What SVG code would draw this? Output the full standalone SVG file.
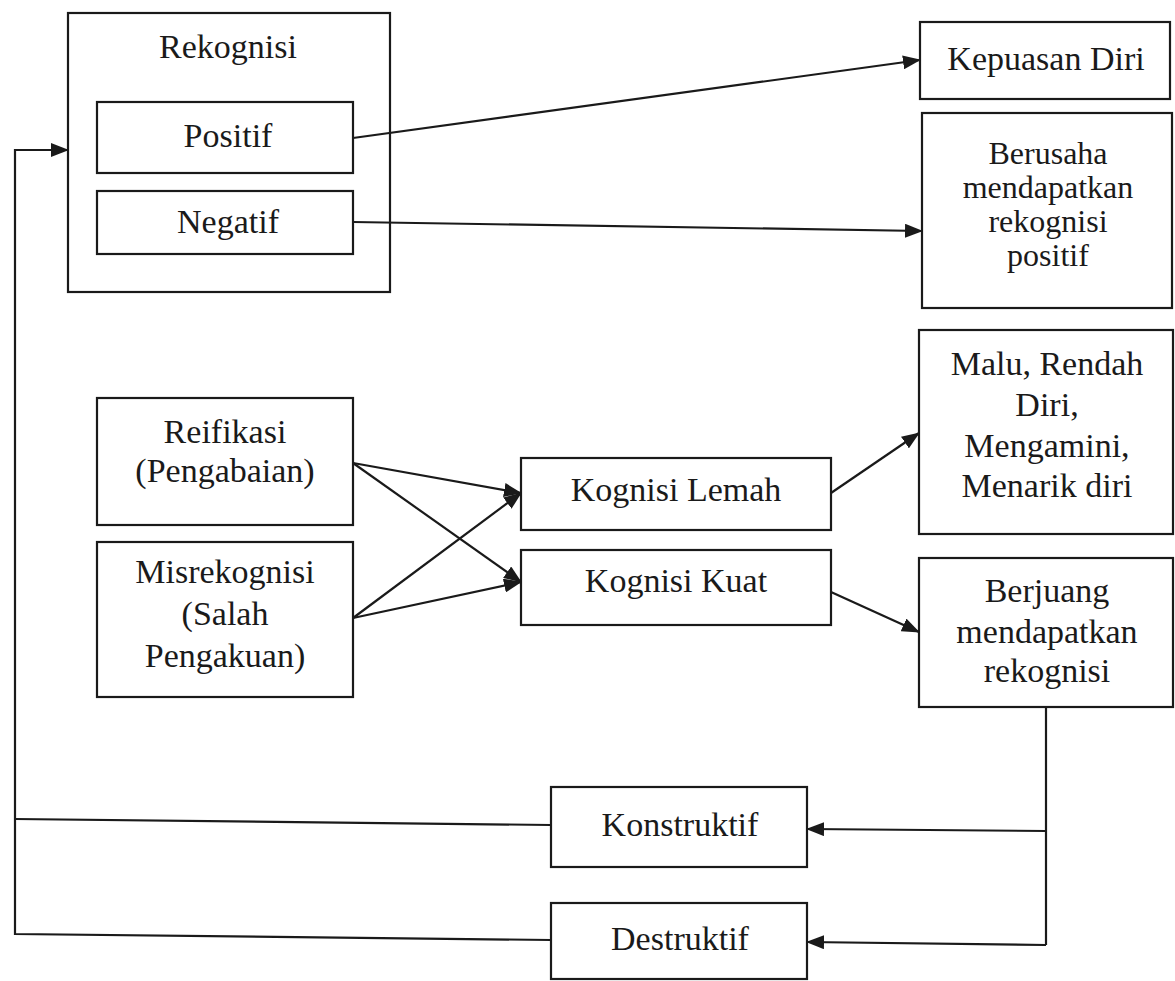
<svg xmlns="http://www.w3.org/2000/svg" width="1175" height="981" viewBox="0 0 1175 981">
<style>
rect.box{fill:#fff;stroke:#1a1a1a;stroke-width:2.2}
text{font-family:"Liberation Serif","Times New Roman",serif;font-size:34px;fill:#1a1a1a;text-anchor:middle}
text.t{font-size:32px}
.c line,.c polyline{stroke:#1a1a1a;stroke-width:2.2;fill:none}
.a{marker-end:url(#ah)}
</style>
<defs>
<marker id="ah" viewBox="0 0 18 14" refX="17" refY="7" markerWidth="18" markerHeight="14" markerUnits="userSpaceOnUse" orient="auto">
<path d="M0,0 L18,7 L0,14 Z" fill="#1a1a1a"/>
</marker>
</defs>
<rect width="1175" height="981" fill="#fff"/>
<g id="rekognisi">
<rect class="box" x="68" y="13" width="322" height="279"/>
<text x="228" y="58">Rekognisi</text>
</g>
<g id="positif">
<rect class="box" x="97" y="102" width="256" height="71"/>
<text x="228" y="147">Positif</text>
</g>
<g id="negatif">
<rect class="box" x="97" y="191" width="256" height="63"/>
<text x="228" y="233">Negatif</text>
</g>
<g id="kepuasan">
<rect class="box" x="920" y="22" width="250" height="77"/>
<text x="1046" y="70">Kepuasan Diri</text>
</g>
<g id="berusaha">
<rect class="box" x="922" y="113" width="250" height="195"/>
<text class="t" x="1048" y="164">Berusaha</text>
<text class="t" x="1048" y="198">mendapatkan</text>
<text class="t" x="1048" y="232">rekognisi</text>
<text class="t" x="1048" y="266">positif</text>
</g>
<g id="reifikasi">
<rect class="box" x="97" y="398" width="256" height="127"/>
<text x="225" y="443">Reifikasi</text>
<text x="225" y="482">(Pengabaian)</text>
</g>
<g id="misrekognisi">
<rect class="box" x="97" y="542" width="256" height="155"/>
<text x="225" y="583">Misrekognisi</text>
<text x="225" y="625">(Salah</text>
<text x="225" y="667">Pengakuan)</text>
</g>
<g id="kognisi-lemah">
<rect class="box" x="521" y="458" width="310" height="72"/>
<text x="676" y="501">Kognisi Lemah</text>
</g>
<g id="kognisi-kuat">
<rect class="box" x="521" y="550" width="310" height="75"/>
<text x="676" y="592">Kognisi Kuat</text>
</g>
<g id="malu">
<rect class="box" x="919" y="330" width="254" height="204"/>
<text x="1047" y="375">Malu, Rendah</text>
<text x="1047" y="416">Diri,</text>
<text x="1047" y="457">Mengamini,</text>
<text x="1047" y="497">Menarik diri</text>
</g>
<g id="berjuang">
<rect class="box" x="919" y="558" width="254" height="149"/>
<text x="1047" y="602">Berjuang</text>
<text x="1047" y="643">mendapatkan</text>
<text x="1047" y="682">rekognisi</text>
</g>
<g id="konstruktif">
<rect class="box" x="551" y="787" width="256" height="80"/>
<text x="680" y="836">Konstruktif</text>
</g>
<g id="destruktif">
<rect class="box" x="551" y="903" width="256" height="76"/>
<text x="680" y="950">Destruktif</text>
</g>
<g id="connectors" class="c">
<line class="a" x1="353" y1="138" x2="920" y2="60"/>
<line class="a" x1="353" y1="222" x2="922" y2="231"/>
<line class="a" x1="353" y1="463" x2="521" y2="493"/>
<line class="a" x1="353" y1="463" x2="521" y2="582"/>
<line class="a" x1="353" y1="618" x2="521" y2="493"/>
<line class="a" x1="353" y1="618" x2="521" y2="582"/>
<line class="a" x1="831" y1="493" x2="919" y2="433"/>
<line class="a" x1="831" y1="592" x2="919" y2="632"/>
<polyline points="1046,707 1046,945"/>
<line class="a" x1="1046" y1="831" x2="807" y2="829"/>
<line class="a" x1="1046" y1="945" x2="807" y2="942"/>
<line x1="551" y1="825" x2="15" y2="819"/>
<polyline class="a" points="551,940 15,934 15,150 68,150"/>
</g>
</svg>
